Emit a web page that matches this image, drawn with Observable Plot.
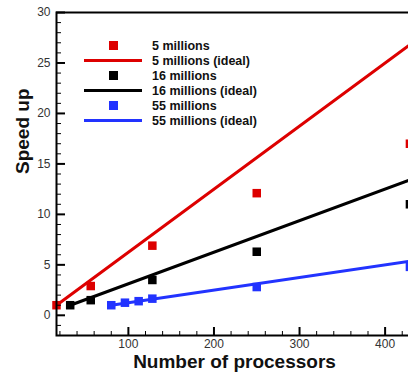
<!DOCTYPE html>
<html>
<head>
<meta charset="utf-8">
<script src="https://cdn.jsdelivr.net/npm/d3@7"></script>
<script src="https://cdn.jsdelivr.net/npm/@observablehq/plot@0.6"></script>
<style>
  html, body { margin: 0; padding: 0; background: #fff; overflow: hidden; width: 408px; height: 379px; }
  #wrap { position: relative; width: 420px; height: 379px; overflow: hidden; }
  #wrap svg { max-width: none !important; display: block; }
  #legend { position: absolute; left: 84px; top: 38px; font-family: "Liberation Sans", Arial, sans-serif; font-weight: bold; font-size: 12.5px; color: #111; }
  .row { display: flex; align-items: center; height: 15px; }
  .sw { width: 58px; height: 15px; position: relative; margin-right: 10px; }
  .sq { position: absolute; left: 25px; top: 3px; width: 9px; height: 9px; }
  .ln { position: absolute; left: 0; top: 6px; width: 58px; height: 3px; }
</style>
</head>
<body>
<div id="wrap"></div>
<script>
// ---- data ----
const procs5M = [16, 56, 128, 250, 429];
const speed5M = [1.0, 2.9, 6.9, 12.1, 17.0];
const procs16M = [32, 56, 128, 250, 429];
const speed16M = [1.0, 1.5, 3.5, 6.3, 11.0];
const procs55M = [80, 96, 112, 128, 250, 429];
const speed55M = [1.0, 1.25, 1.4, 1.65, 2.8, 4.8];

const ideal5X = [16, 432];
const ideal5Y = [1, 27];
const ideal16X = [32, 432];
const ideal16Y = [1, 13.5];
const ideal55X = [80, 432];
const ideal55Y = [1, 5.4];

const seriesNames = ["5 millions", "16 millions", "55 millions"];
const seriesColors = ["#dd0000", "#000000", "#2233ff"];

const xTicks = [100, 200, 300, 400];
const xMinorTicks = [20, 40, 60, 80, 120, 140, 160, 180, 220, 240, 260, 280, 320, 340, 360, 380, 420];
const yTicks = [0, 5, 10, 15, 20, 25, 30];
const yMinorTicks = [-1, 1, 2, 3, 4, 6, 7, 8, 9, 11, 12, 13, 14, 16, 17, 18, 19, 21, 22, 23, 24, 26, 27, 28, 29];

const xLabel = "Number of processors";
const yLabel = "Speed up";

// ---- build tables ----
const pts = (xs, ys, s) => xs.map((x, i) => ({x, y: ys[i], s}));
const points = [
  ...pts(procs5M, speed5M, seriesNames[0]),
  ...pts(procs16M, speed16M, seriesNames[1]),
  ...pts(procs55M, speed55M, seriesNames[2])
];
const ideals = [
  ...pts(ideal5X, ideal5Y, seriesNames[0]),
  ...pts(ideal16X, ideal16Y, seriesNames[1]),
  ...pts(ideal55X, ideal55Y, seriesNames[2])
];

const colorScale = {domain: seriesNames, range: seriesColors};

const chart = Plot.plot({
  width: 420,
  height: 379,
  marginLeft: 56,
  marginRight: 8,
  marginTop: 12,
  marginBottom: 44,
  style: {fontFamily: "'Liberation Sans', Arial, sans-serif", fontSize: "12px", color: "#333", background: "#fff", maxWidth: "none"},
  x: {domain: [16, 432]},
  y: {domain: [-2, 30]},
  color: colorScale,
  marks: [
    Plot.line(ideals, {x: "x", y: "y", z: "s", stroke: "s", strokeWidth: 3}),
    Plot.dot(points, {x: "x", y: "y", fill: "s", symbol: "square", r: 4.8}),
    // inward ticks (drawn outward, then shifted inside the frame)
    Plot.axisX({ticks: xMinorTicks, tickSize: 4, dy: -4, fill: "none", label: null, stroke: "#000", strokeWidth: 1}),
    Plot.axisX({ticks: xTicks, tickSize: 8, dy: -8, fill: "none", label: null, stroke: "#000", strokeWidth: 2}),
    Plot.axisY({ticks: yMinorTicks, tickSize: 5, dx: 5, fill: "none", label: null, stroke: "#000", strokeWidth: 1}),
    Plot.axisY({ticks: yTicks, tickSize: 9, dx: 9, fill: "none", label: null, stroke: "#000", strokeWidth: 2}),
    // tick labels
    Plot.axisX({ticks: xTicks, tickSize: 0, tickPadding: 4, label: null, stroke: "none", fill: "#333", fontSize: 12}),
    Plot.axisY({ticks: yTicks, tickSize: 0, tickPadding: 6, label: null, stroke: "none", fill: "#333", fontSize: 12}),
    Plot.frame({stroke: "#000", strokeWidth: 2}),
    Plot.text([xLabel], {text: d => d, frameAnchor: "bottom", lineAnchor: "bottom", dy: 32, fontSize: 19, fontWeight: "bold", fill: "#111"}),
    Plot.text([yLabel], {text: d => d, frameAnchor: "left", lineAnchor: "bottom", rotate: -90, dx: -28, fontSize: 19, fontWeight: "bold", fill: "#111"})
  ]
});

const wrap = document.getElementById("wrap");
wrap.appendChild(chart);

// legend overlay
const legend = document.createElement("div");
legend.id = "legend";
seriesNames.forEach((name, i) => {
  const r1 = document.createElement("div");
  r1.className = "row";
  r1.innerHTML = `<div class="sw"><div class="sq" style="background:${seriesColors[i]}"></div></div><span>${name}</span>`;
  const r2 = document.createElement("div");
  r2.className = "row";
  r2.innerHTML = `<div class="sw"><div class="ln" style="background:${seriesColors[i]}"></div></div><span>${name} (ideal)</span>`;
  legend.appendChild(r1);
  legend.appendChild(r2);
});
wrap.appendChild(legend);
</script>
</body>
</html>
